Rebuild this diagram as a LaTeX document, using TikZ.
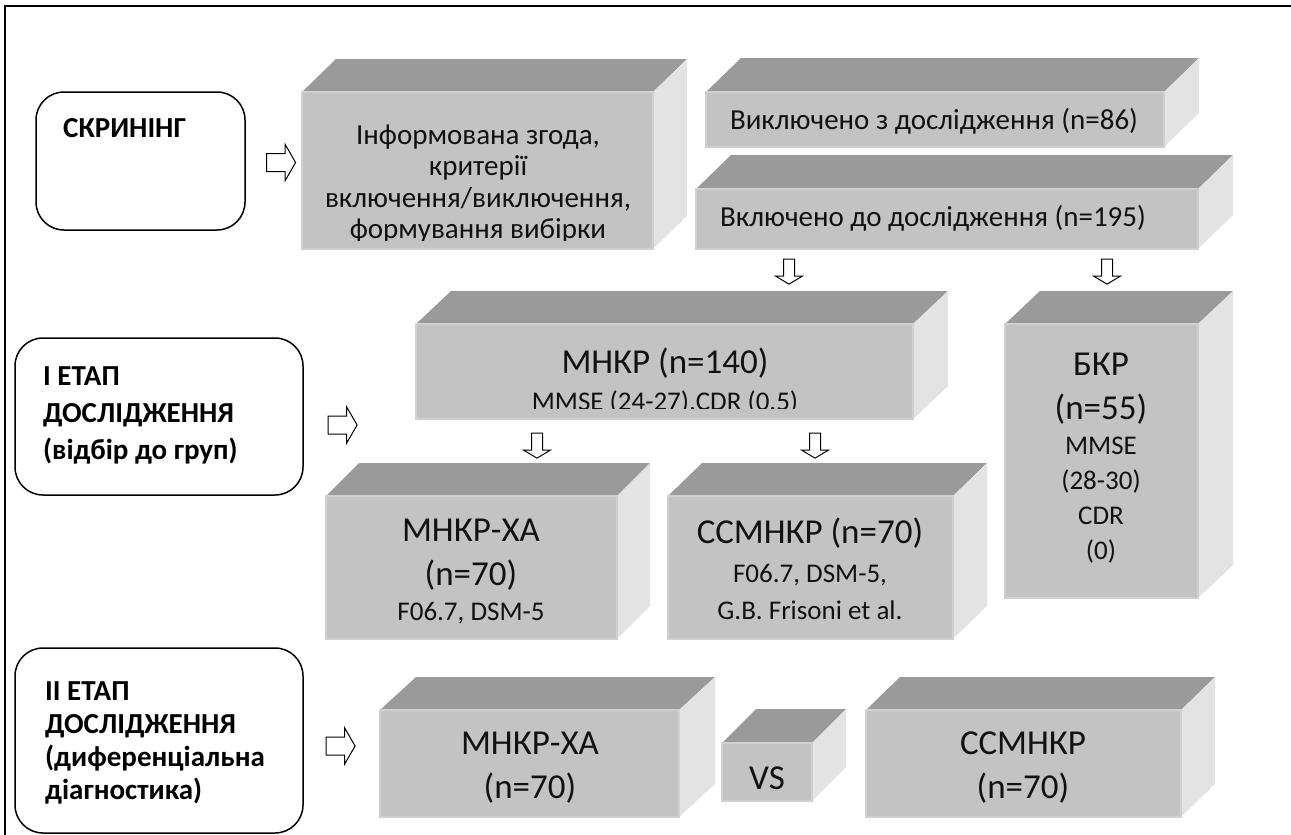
\documentclass[tikz,border=0pt]{standalone}
\usepackage{fontspec}
\setmainfont{Carlito}
\usetikzlibrary{shapes.arrows}
\definecolor{topc}{HTML}{9A9A9A}
\definecolor{sidec}{HTML}{E3E3E3}
\definecolor{frontc}{HTML}{C3C3C3}
\definecolor{edgec}{HTML}{D0D0D0}
\definecolor{inkc}{HTML}{111111}
\newcommand\bigf{\fontsize{35}{44}\selectfont}
\newcommand\medf{\fontsize{29}{31.5}\selectfont}
\newcommand\smallf{\fontsize{27}{36}\selectfont}
\newcommand\boldf{\fontsize{29}{37}\selectfont\bfseries}
\newcommand\cuboid[7]{%
  \fill[topc] (#2,#3) -- (#2+#6,#3-#7) -- (#4+#6,#3-#7) -- (#4,#3) -- cycle;
  \fill[sidec] (#4,#3) -- (#4+#6,#3-#7) -- (#4+#6,#5-#7) -- (#4,#5) -- cycle;
  \node[frontbox, minimum width={#4-#2}, minimum height={#5-#3}] (#1) at ({(#2+#4)/2},{(#3+#5)/2}) {};
}
\tikzset{
  frontbox/.style={rectangle, fill=frontc, draw=edgec, line width=1.2pt, inner sep=0pt, outer sep=0pt},
  rbox/.style={rectangle, draw=black, line width=1.5pt, rounded corners=28pt, fill=white, inner sep=0pt},
  txt/.style={inner sep=0pt, text=inkc, align=center},
  ltxt/.style={inner sep=0pt, text=black, align=left, anchor=west},
  rarr/.style={single arrow, draw=black, line width=1pt, fill=white, minimum height=29pt, inner xsep=0pt, inner ysep=8.5pt, single arrow head extend=9pt, single arrow tip angle=120, text height=0pt, text depth=0pt},
  darr/.style={single arrow, draw=black, line width=1pt, fill=white, minimum height=25pt, inner xsep=5pt, inner ysep=5pt, single arrow head extend=8pt, single arrow tip angle=118, text height=0pt, text depth=0pt, text width=0pt, shape border rotate=270},
}
\begin{document}
\begin{tikzpicture}[x=1pt, y=-1pt]
\useasboundingbox (0,0) rectangle (1291,835);
\fill[white] (0,0) rectangle (1291,835);
% frame
\draw[line width=2pt] (5,835) -- (5,6) -- (1291,6);

% left rounded boxes
\node[rbox, minimum width=209pt, minimum height=138pt] (scr) at (140.5,161) {};
\node[ltxt, font=\boldf] (scrt) at (63,128) {СКРИНІНГ};
\node[rbox, minimum width=288pt, minimum height=157pt] (st1) at (159,416.5) {};
\node[ltxt, font=\boldf] (st1t) at (43,415) {І ЕТАП\\ДОСЛІДЖЕННЯ\\(відбір до груп)};
\node[rbox, minimum width=288pt, minimum height=185pt] (st2) at (159,740.5) {};
\node[ltxt, font=\fontsize{29}{33}\selectfont\bfseries] (st2t) at (45,742.5) {ІІ ЕТАП\\ДОСЛІДЖЕННЯ\\(диференціальна\\діагностика)};

% right arrows
\node[rarr] (ar1) at (278.5,162.5) {};
\node[rarr] (ar2) at (340,425) {};
\node[rarr] (ar3) at (338,746) {};

% top row
\cuboid{inf}{302}{92}{653}{249}{34}{33}
\begin{scope}
  \clip (302,92) rectangle (653,240);
  \node[txt, font=\medf] (inft) at (478,184) {Інформована згода,\\критерії\\включення/виключення,\\формування вибірки};
\end{scope}
\cuboid{exc}{706}{92}{1164}{147}{35}{34}
\node[txt, font=\medf] (exct) at (934,121) {Виключено з дослідження (n=86)};
\cuboid{inc}{696}{189}{1198}{249}{35}{34}
\node[txt, font=\medf] (inct) at (933,218) {Включено до дослідження (n=195)};

% down arrows
\node[darr] (ad1) at (789,270) {};
\node[darr] (ad2) at (1107,270) {};

% middle row
\cuboid{mnkr}{416}{324}{913}{419}{35}{33}
\node[txt, font=\bigf] (mnkrt) at (665,363) {МНКР (n=140)};
\begin{scope}
  \clip (416,324) rectangle (913,408);
  \node[txt, font=\smallf, anchor=base] (mnkrs) at (665,410) {MMSE (24-27),CDR (0.5)};
\end{scope}
\cuboid{bkr}{1005}{324}{1198}{598}{35}{33}
\node[txt, font=\bigf, text depth=0pt] (bkrt) at (1101,386) {БКР\\(n=55)};
\node[txt, font=\fontsize{27}{35}\selectfont] (bkrs) at (1101,500) {MMSE\\(28-30)\\CDR\\(0)};

\node[darr] (ad3) at (537,444) {};
\node[darr] (ad4) at (815,444) {};

\cuboid{xa}{326}{496}{617}{639}{33}{33}
\node[txt, font=\bigf] (xat) at (471,555) {МНКР-ХА\\(n=70)};
\node[txt, font=\smallf] (xas) at (471,613) {F06.7, DSM-5};
\cuboid{ss}{668}{496}{953}{639}{34}{33}
\node[txt, font=\bigf] (sst) at (810,533) {ССМНКР (n=70)};
\node[txt, font=\fontsize{27}{37}\selectfont] (sss) at (810,591.5) {F06.7, DSM-5,\\G.B. Frisoni et al.};

% bottom row
\cuboid{bxa}{380}{710}{679}{817}{36}{33}
\node[txt, font=\bigf] (bxat) at (530,768) {МНКР-ХА\\(n=70)};
\cuboid{vs}{722}{743}{812}{801}{34}{34}
\node[txt, font=\bigf] (vst) at (767,778) {VS};
\cuboid{bss}{866}{710}{1181}{817}{34}{33}
\node[txt, font=\bigf] (bsst) at (1023,768) {ССМНКР\\(n=70)};
\end{tikzpicture}
\end{document}
